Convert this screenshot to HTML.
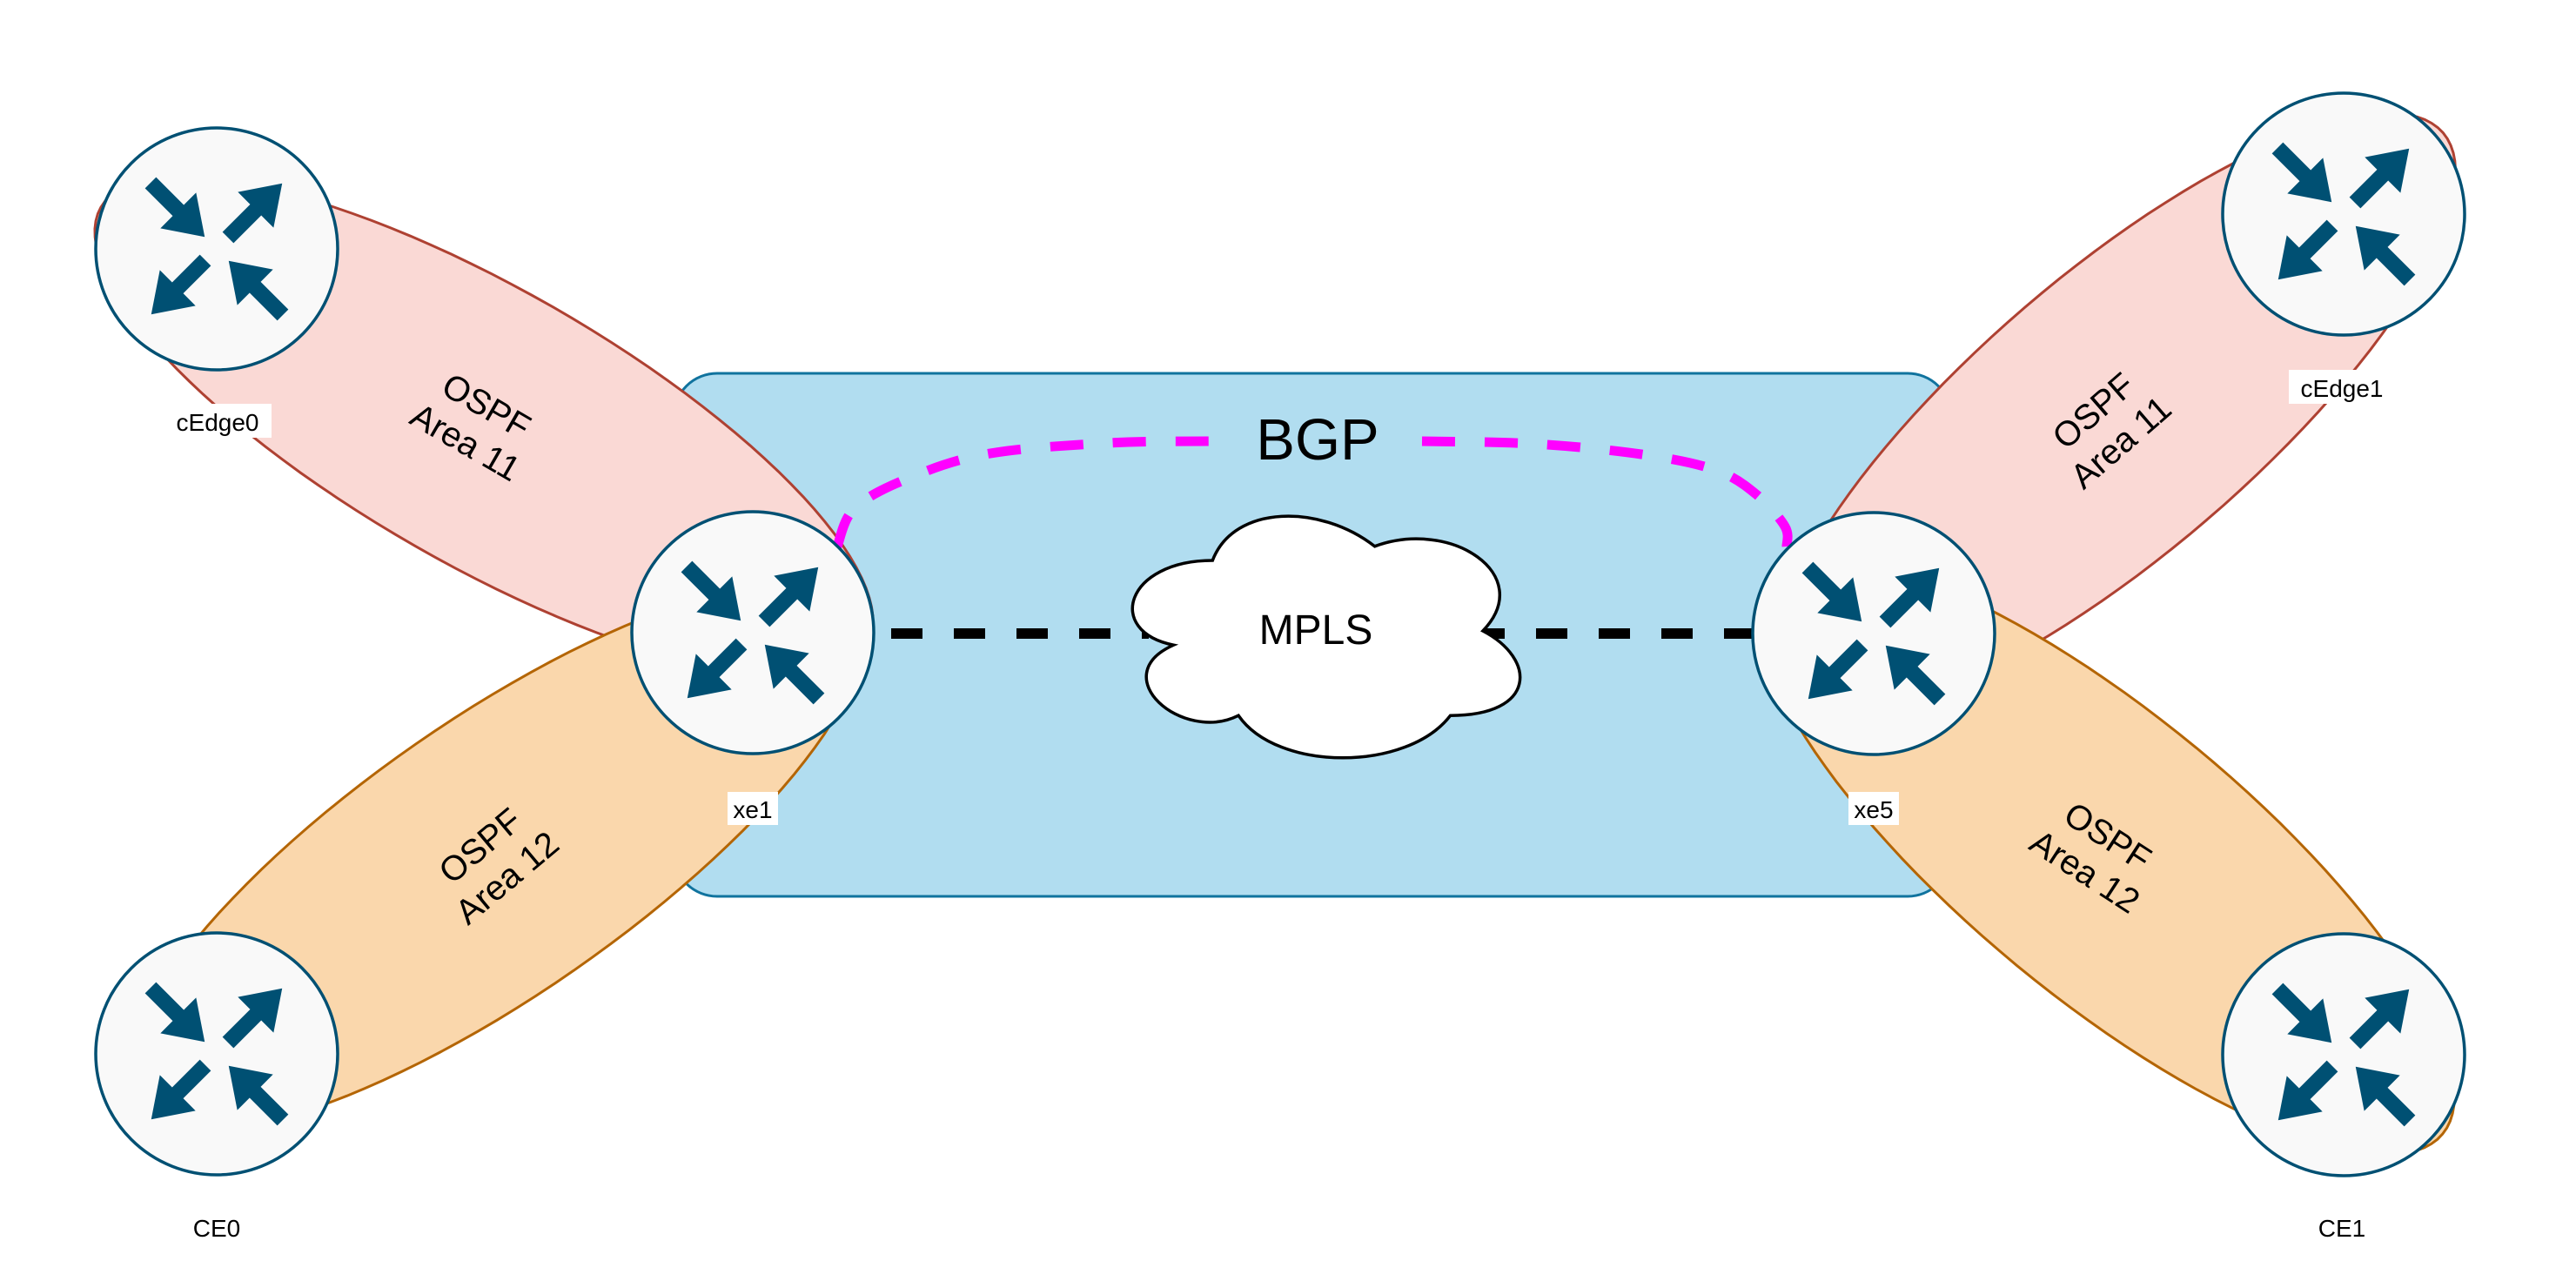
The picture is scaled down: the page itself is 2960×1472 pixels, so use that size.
<!DOCTYPE html>
<html><head><meta charset="utf-8">
<style>
html,body{margin:0;padding:0;background:#fff;}
svg{display:block;}
text{font-family:"Liberation Sans",Arial,sans-serif;}
</style></head>
<body>
<svg id="s" width="2960" height="1472" viewBox="0 0 2960 1472" xmlns="http://www.w3.org/2000/svg">
<defs>
  <path id="arr" d="M0,-9 L45,-9 L45,-29 L88,0 L45,29 L45,9 L0,9 Z" fill="#005073"/>
  <g id="router">
    <circle cx="0" cy="0" r="139" fill="#f9f9f9" stroke="#005073" stroke-width="3.5"/>
    <use href="#arr" transform="translate(-76,-76) rotate(45)"/>
    <use href="#arr" transform="translate(13,-13) rotate(-45)"/>
    <use href="#arr" transform="translate(-13,13) rotate(135)"/>
    <use href="#arr" transform="translate(76,76) rotate(-135)"/>
  </g>
</defs>
<rect x="774" y="429" width="1468" height="601" rx="50" ry="50" fill="#b1ddf0" stroke="#10739e" stroke-width="3"/>
<path id="lp" fill="#fad9d5" stroke="#ae4132" stroke-width="3"/>
<path id="lo" fill="#fad7ac" stroke="#b46504" stroke-width="3"/>
<path id="rp" fill="#fad9d5" stroke="#ae4132" stroke-width="3"/>
<path id="ro" fill="#fad7ac" stroke="#b46504" stroke-width="3"/>

<g transform="translate(547,487) rotate(30)" font-size="40" text-anchor="middle">
  <text x="0" y="-10">OSPF</text><text x="0" y="38">Area 11</text>
</g>
<g transform="translate(567,990) rotate(-40)" font-size="40" text-anchor="middle">
  <text x="0" y="-10">OSPF</text><text x="0" y="38">Area 12</text>
</g>
<g transform="translate(2421,490) rotate(-41)" font-size="40" text-anchor="middle">
  <text x="0" y="-10">OSPF</text><text x="0" y="38">Area 11</text>
</g>
<g transform="translate(2409,981) rotate(33)" font-size="40" text-anchor="middle">
  <text x="0" y="-10">OSPF</text><text x="0" y="38">Area 12</text>
</g>

<path id="bl" fill="none" stroke="#ff00ff" stroke-width="11" stroke-dasharray="38 34"/>
<path id="br" fill="none" stroke="#ff00ff" stroke-width="11" stroke-dasharray="38 34"/>
<text x="1514" y="528" font-size="67" text-anchor="middle">BGP</text>

<line x1="1024" y1="728" x2="1320" y2="728" stroke="#000" stroke-width="12" stroke-dasharray="36 36"/>
<line x1="1693" y1="728" x2="2016" y2="728" stroke="#000" stroke-width="12" stroke-dasharray="36 36"/>

<path id="cloud" fill="#fff" stroke="#000" stroke-width="3.5"/>
<text x="1512" y="740" font-size="48" text-anchor="middle">MPLS</text>

<use href="#router" transform="translate(249,286)"/>
<use href="#router" transform="translate(249,1211)"/>
<use href="#router" transform="translate(865,727)"/>
<use href="#router" transform="translate(2153,728)"/>
<use href="#router" transform="translate(2693,246)"/>
<use href="#router" transform="translate(2693,1212)"/>

<rect x="189" y="464" width="123" height="39" fill="#fff"/>
<text x="250" y="495" font-size="28" text-anchor="middle">cEdge0</text>
<rect x="2630" y="425" width="123" height="39" fill="#fff"/>
<text x="2691" y="456" font-size="28" text-anchor="middle">cEdge1</text>
<rect x="836" y="910" width="58" height="38" fill="#fff"/>
<text x="865" y="940" font-size="28" text-anchor="middle">xe1</text>
<rect x="2124" y="910" width="58" height="38" fill="#fff"/>
<text x="2153" y="940" font-size="28" text-anchor="middle">xe5</text>
<text x="249" y="1421" font-size="28" text-anchor="middle">CE0</text>
<text x="2691" y="1421" font-size="28" text-anchor="middle">CE1</text>
</svg>
<script>
function cr(p,closed){
  var n=p.length,d="M"+p[0][0]+","+p[0][1];
  var m=closed?n:n-1;
  for(var i=0;i<m;i++){
    var p0=p[closed?(i-1+n)%n:Math.max(i-1,0)],p1=p[i],p2=p[closed?(i+1)%n:i+1],p3=p[closed?(i+2)%n:Math.min(i+2,n-1)];
    var c1=[p1[0]+(p2[0]-p0[0])/6,p1[1]+(p2[1]-p0[1])/6];
    var c2=[p2[0]-(p3[0]-p1[0])/6,p2[1]-(p3[1]-p1[1])/6];
    d+=" C"+c1[0].toFixed(1)+","+c1[1].toFixed(1)+" "+c2[0].toFixed(1)+","+c2[1].toFixed(1)+" "+p2[0]+","+p2[1];
  }
  if(closed)d+="Z";
  return d;
}
function solve(M,v){
  var n=v.length,i,j,k;
  for(i=0;i<n;i++){
    var mx=i;for(k=i+1;k<n;k++)if(Math.abs(M[k][i])>Math.abs(M[mx][i]))mx=k;
    var t=M[i];M[i]=M[mx];M[mx]=t;t=v[i];v[i]=v[mx];v[mx]=t;
    for(k=i+1;k<n;k++){var f=M[k][i]/M[i][i];for(j=i;j<n;j++)M[k][j]-=f*M[i][j];v[k]-=f*v[i];}
  }
  var x=new Array(n);
  for(i=n-1;i>=0;i--){var s=v[i];for(j=i+1;j<n;j++)s-=M[i][j]*x[j];x[i]=s/M[i][i];}
  return x;
}
function fitEllipse(pts){
  var mx=0,my=0,S=500;pts.forEach(function(p){mx+=p[0];my+=p[1];});mx/=pts.length;my/=pts.length;
  var M=[[0,0,0,0,0],[0,0,0,0,0],[0,0,0,0,0],[0,0,0,0,0],[0,0,0,0,0]],v=[0,0,0,0,0];
  pts.forEach(function(p){
    var x=(p[0]-mx)/S,y=(p[1]-my)/S,r=[x*x,x*y,y*y,x,y];
    for(var i=0;i<5;i++){v[i]+=r[i];for(var j=0;j<5;j++)M[i][j]+=r[i]*r[j];}
  });
  var c=solve(M,v),A=c[0],B=c[1],C=c[2],D=c[3],E=c[4];
  if(B*B-4*A*C>=0)return null;
  var det=4*A*C-B*B,x0=(B*E-2*C*D)/det,y0=(B*D-2*A*E)/det;
  var F0=A*x0*x0+B*x0*y0+C*y0*y0+D*x0+E*y0-1;
  var th=0.5*Math.atan2(B,A-C),co=Math.cos(th),si=Math.sin(th);
  var la=A*co*co+B*co*si+C*si*si,lb=A*si*si-B*co*si+C*co*co;
  if(-F0/la<=0||-F0/lb<=0)return null;
  return {cx:mx+x0*S,cy:my+y0*S,a:Math.sqrt(-F0/la)*S,b:Math.sqrt(-F0/lb)*S,th:th};
}
function ellPath(e){
  var d="",N=120;
  for(var i=0;i<N;i++){var t=2*Math.PI*i/N,x=e.a*Math.cos(t),y=e.b*Math.sin(t);
    var X=e.cx+x*Math.cos(e.th)-y*Math.sin(e.th),Y=e.cy+x*Math.sin(e.th)+y*Math.cos(e.th);
    d+=(i?"L":"M")+X.toFixed(1)+","+Y.toFixed(1);}
  return d+"Z";
}
function setE(id,fitPts,fallback){
  var e=null;try{e=fitEllipse(fitPts);}catch(err){e=null;}
  var el=document.getElementById(id);
  if(e&&e.a<1500&&e.b<1500)el.setAttribute("d",ellPath(e));else el.setAttribute("d",cr(fallback,true));
}
setE("lp",[[380,235],[529,302],[638,352],[773,440],[855,505],[958,616],[191,413],[291,501],[421,593],[556,670],[689,729]],
 [[240,215],[380,235],[529,302],[638,352],[773,440],[855,505],[958,616],[945,700],[880,745],[689,729],[556,670],[421,593],[291,501],[191,413],[170,330]]);
setE("lo",[[237,1066],[367,941],[529,819],[725,717],[372,1272],[556,1178],[692,1088],[790,1019],[865,945],[952,831]],
 [[237,1066],[367,941],[529,819],[725,717],[850,680],[950,740],[952,831],[865,945],[790,1019],[692,1088],[556,1178],[372,1272],[250,1300],[190,1220]]);
setE("rp",[[2103,604],[2159,528],[2235,434],[2329,349],[2423,274],[2560,198],[2813,163],[2822,190],[2754,373],[2659,472],[2565,566],[2452,660],[2357,736]],
 [[2103,604],[2159,528],[2235,434],[2329,349],[2423,274],[2560,198],[2680,140],[2800,150],[2822,200],[2800,310],[2754,373],[2659,472],[2565,566],[2452,660],[2357,736],[2250,780],[2120,700]]);
setE("ro",[[2291,703],[2423,783],[2565,896],[2659,981],[2730,1075],[2810,1302],[2574,1278],[2423,1189],[2301,1094],[2225,1024],[2140,943],[2079,849]],
 [[2180,690],[2291,703],[2423,783],[2565,896],[2659,981],[2730,1075],[2790,1170],[2815,1290],[2740,1340],[2574,1278],[2423,1189],[2301,1094],[2225,1024],[2140,943],[2079,849],[2090,760]]);
document.getElementById("bl").setAttribute("d",cr([[962,628],[981,585],[1038,552],[1132,522],[1274,509],[1394,507]],false));
document.getElementById("br").setAttribute("d",cr([[1634,507],[1763,510],[1886,522],[1971,540],[2018,568],[2051,605],[2053,628]],false));
(function(){
  var x=1269,y=563,w=497,h=324;
  function P(a,b){return (x+a*w).toFixed(1)+","+(y+b*h).toFixed(1);}
  var d="M"+P(.25,.25)+" C"+P(.05,.25)+" "+P(0,.5)+" "+P(.16,.55)+" C"+P(0,.66)+" "+P(.18,.9)+" "+P(.31,.8)+" C"+P(.4,1)+" "+P(.7,1)+" "+P(.8,.8)+" C"+P(1,.8)+" "+P(1,.6)+" "+P(.875,.5)+" C"+P(1,.3)+" "+P(.8,.1)+" "+P(.625,.2)+" C"+P(.5,.05)+" "+P(.3,.05)+" "+P(.25,.25)+"Z";
  document.getElementById("cloud").setAttribute("d",d);
})();
</script>
</body></html>
